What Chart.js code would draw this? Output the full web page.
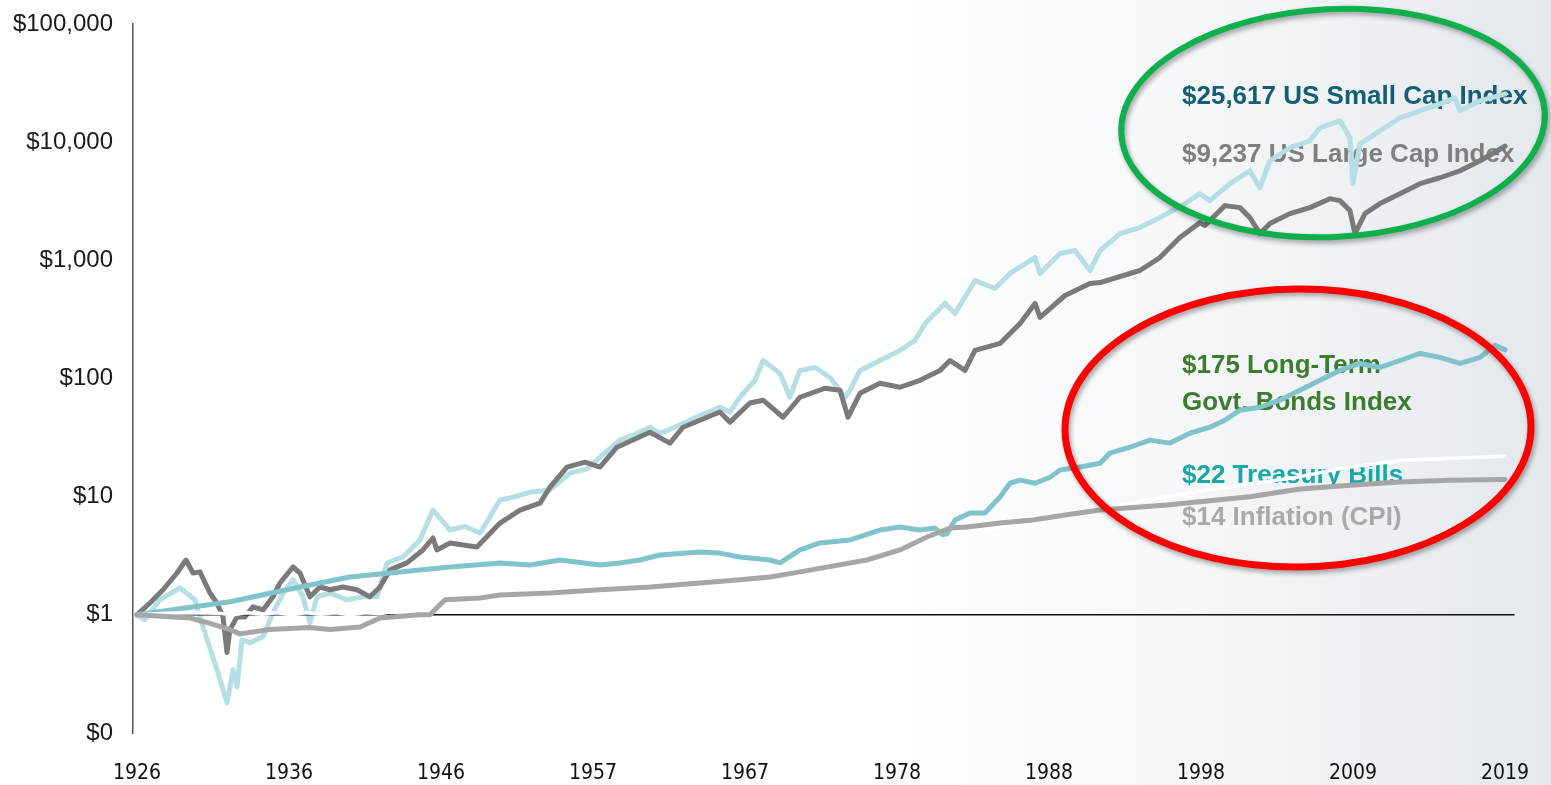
<!DOCTYPE html>
<html>
<head>
<meta charset="utf-8">
<script src="https://cdn.jsdelivr.net/npm/chart.js@4.4.1/dist/chart.umd.min.js"></script>
<style>
  html, body { margin: 0; padding: 0; background: #ffffff; }
  #wrap { width: 1551px; height: 785px; position: relative; }
</style>
</head>
<body>
<div id="wrap"><canvas id="c"></canvas></div>
<script>
// ---------- DATA ----------
const xTickLabels = ['1926','1936','1946','1957','1967','1978','1988','1998','2009','2019'];
const yTickValues = [0.1, 1, 10, 100, 1000, 10000, 100000];
const yTickLabels = ['$0','$1','$10','$100','$1,000','$10,000','$100,000'];

const smallCapYears = [1926.0,1926.54,1927.56,1928.92,1929.94,1930.49,1931.44,1932.12,1932.53,1932.80,1933.14,1933.68,1934.57,1935.25,1935.93,1936.61,1937.28,1937.76,1938.24,1939.12,1940.28,1941.36,1942.32,1943.00,1944.08,1945.24,1946.12,1947.28,1948.3,1949.32,1950.68,1951.6,1952.72,1954.08,1955.44,1956.6,1957.47,1958.83,1959.8,1960.87,1961.55,1962.3,1963.59,1965.63,1966.3,1966.99,1968.01,1968.56,1969.71,1970.39,1971.07,1972.09,1973.11,1974.13,1974.47,1975.15,1976.51,1977.87,1978.89,1979.57,1980.93,1981.61,1982.97,1984.33,1985.35,1987.05,1987.39,1988.75,1989.77,1990.79,1991.47,1992.83,1994.18,1995.54,1997.24,1998.26,1998.94,2000.30,2001.66,2002.34,2003.02,2004.38,2005.74,2006.42,2007.78,2008.46,2008.66,2009.14,2010.50,2011.86,2013.22,2014.58,2015.60,2015.94,2017.31,2019.0];
const smallCapValues = [1.0,0.91,1.34,1.69,1.34,0.79,0.343,0.18,0.343,0.246,0.615,0.58,0.652,1.04,1.53,1.98,1.42,0.86,1.42,1.53,1.34,1.42,1.42,2.75,3.09,4.30,7.70,5.22,5.6,4.93,9.36,9.9,10.9,11.4,15.8,17.2,21.6,30.1,33.5,38.7,34.4,37.5,44.4,57.1,52,69.4,96.6,142,111,69.4,117,124,102,69.4,79.5,117,142,173,210,292,432,355,675,578,774,1056,774,1141,1210,820,1210,1683,1892,2298,3020,3665,3200,4455,5730,4120,6965,8970,10280,13240,15170,10890,4455,9690,12480,16070,18410,21100,23700,18410,22380,25617];

const largeCapYears = [1926.0,1926.88,1927.77,1928.72,1929.33,1929.81,1930.28,1930.96,1931.44,1931.85,1932.12,1932.32,1932.80,1933.34,1933.89,1934.57,1935.25,1935.72,1936.61,1937.08,1937.76,1938.44,1939.12,1940.00,1940.96,1941.84,1942.52,1943.20,1944.35,1945.44,1946.12,1946.39,1947.28,1949.11,1950.68,1952.04,1953.40,1954.08,1955.23,1956.46,1957.47,1958.63,1960.87,1962.23,1963.12,1965.63,1966.31,1967.67,1968.56,1969.92,1971.07,1972.77,1973.79,1974.34,1975.15,1976.51,1977.87,1979.23,1980.59,1981.27,1982.29,1982.97,1984.67,1986.03,1987.05,1987.39,1989.09,1990.79,1991.47,1994.18,1995.54,1996.90,1998.26,1998.60,1999.96,2000.98,2001.66,2002.34,2003.02,2004.38,2005.74,2007.10,2007.78,2008.46,2008.80,2009.48,2010.50,2011.86,2013.22,2014.58,2015.94,2017.31,2019.0];
const largeCapValues = [1.0,1.26,1.63,2.26,2.91,2.26,2.31,1.53,1.26,0.96,0.48,0.75,0.96,0.96,1.17,1.10,1.42,1.86,2.54,2.26,1.42,1.72,1.63,1.72,1.63,1.42,1.72,2.40,2.75,3.54,4.47,3.54,4.06,3.75,5.98,7.7,8.83,12.05,17.8,19.6,17.8,26.2,35.1,28.4,38.7,52,42.7,62,65.5,47.0,69.4,82.7,79.5,47.0,75.0,91.1,84.3,96.6,117,142,117,173,198,292,432,329,504,637,649,820,1056,1559,2085,1968,2904,2793,2298,1683,2047,2485,2793,3326,3200,2635,1683,2485,3020,3665,4455,5000,5730,6965,9237];

const bondYears = [1926.0,1932.32,1937.08,1940.48,1945.24,1947.28,1950.68,1952.72,1954.76,1957.47,1958.83,1960.19,1961.55,1964.27,1965.63,1966.99,1969.03,1969.71,1971.07,1972.43,1974.47,1976.51,1977.87,1979.23,1980.25,1980.93,1981.61,1982.63,1983.65,1984.67,1985.35,1986.03,1987.05,1988.07,1988.75,1990.11,1991.47,1992.14,1993.50,1994.86,1996.22,1997.58,1998.94,1999.96,2000.98,2002.34,2003.70,2005.06,2006.42,2007.78,2009.14,2010.50,2011.86,2013.22,2014.58,2015.94,2017.31,2018.33,2019.0];
const bondValues = [1.0,1.29,1.72,2.09,2.40,2.54,2.75,2.64,2.91,2.64,2.75,2.91,3.21,3.40,3.33,3.09,2.91,2.75,3.54,4.06,4.30,5.22,5.54,5.22,5.43,4.56,6.34,7.27,7.27,9.92,13.0,13.8,13.0,14.6,16.8,17.8,19.2,23.4,26.2,30.1,28.4,34.4,38.7,44.4,53.9,57.1,65.5,79.5,96.6,117,134,124,142,163,151,134,151,191,175];

const tbillYears = [1926,1928,1930,1931.5,1932.5,1933.5,1934.5,1935.5,1936.5,1937.5,1938.5,1939.5,1940.5,1941.5,1942.5,1943.5,1946,1950,1955,1960,1965,1970,1975,1980,1985,1988,1991.5,1995,1997,2000,2005,2008,2012,2015,2019];
const tbillValues = [1.0,1.03,1.04,1.03,1.0,1.04,1.01,1.04,1.0,1.04,1.01,1.04,1.0,1.04,1.02,1.07,1.12,1.2,1.3,1.5,1.8,2.25,3.0,4.2,5.6,6.6,7.9,9.5,10.5,12,14.7,17.5,20.3,21,22];

const cpiYears = [1926,1929.6,1930.62,1932.32,1933.0,1935.04,1937.76,1939.12,1941.16,1942.52,1945.24,1945.92,1946.94,1949.32,1950.68,1954.08,1957.47,1960.87,1964.27,1966.99,1969.03,1971.07,1975.62,1977.87,1979.71,1981.27,1982.43,1984.67,1986.91,1989.09,1991.47,1996.02,2001.66,2005.06,2008.46,2011.86,2015.26,2019.0];
const cpiValues = [1.0,0.94,0.87,0.75,0.69,0.75,0.78,0.75,0.79,0.94,1.0,1.0,1.34,1.39,1.47,1.53,1.63,1.72,1.86,1.98,2.09,2.31,2.91,3.54,4.56,5.43,5.54,5.98,6.34,7.0,7.7,8.49,10.0,11.6,12.5,13.3,13.8,14.0];

const baselineYears = [1926, 2019.65];
const baselineValues = [1, 1];

// ---------- helpers ----------
const pts = (xs, ys) => xs.map((x, i) => ({ x: x, y: ys[i] }));

const annotationLabels = [
  { text: '$25,617 US Small Cap Index', x: 1182, y: 97,  color: '#135e74' },
  { text: '$9,237 US Large Cap Index',  x: 1182, y: 155, color: '#7f7f7f' },
  { text: '$175 Long-Term',             x: 1182, y: 366, color: '#3b7d2d' },
  { text: 'Govt. Bonds Index',          x: 1182, y: 403, color: '#3b7d2d' },
  { text: '$22 Treasury Bills',         x: 1182, y: 476, color: '#19a8a5' },
  { text: '$14 Inflation (CPI)',        x: 1182, y: 518, color: '#a9a9a9' }
];
const annotationEllipses = [
  { cx: 1333, cy: 123, rx: 212, ry: 114, rot: -0.05, color: '#0fb04b', width: 6 },
  { cx: 1298, cy: 428, rx: 233, ry: 139, rot: -0.01, color: '#ff0000', width: 7 }
];

const bgPlugin = {
  id: 'bg',
  beforeDraw(chart) {
    const ctx = chart.ctx, w = chart.width, h = chart.height;
    const g = ctx.createLinearGradient(0, 0, w, 0);
    g.addColorStop(0, '#ffffff');
    g.addColorStop(0.56, '#ffffff');
    g.addColorStop(0.72, '#f8f9fb');
    g.addColorStop(0.86, '#eff2f5');
    g.addColorStop(1, '#e3e8ed');
    ctx.save();
    ctx.fillStyle = g;
    ctx.fillRect(0, 0, w, h);
    ctx.restore();
  }
};

const annoPlugin = {
  id: 'anno',
  beforeDatasetsDraw(chart) {
    const ctx = chart.ctx;
    ctx.save();
    ctx.font = 'bold 26px "Liberation Sans", Arial, sans-serif';
    ctx.textBaseline = 'middle';
    ctx.textAlign = 'left';
    annotationLabels.forEach(l => {
      ctx.fillStyle = l.color;
      ctx.fillText(l.text, l.x, l.y);
    });
    ctx.restore();
  },
  afterDatasetsDraw(chart) {
    const ctx = chart.ctx;
    annotationEllipses.forEach(e => {
      ctx.save();
      ctx.shadowColor = 'rgba(0,0,0,0.35)';
      ctx.shadowBlur = 5;
      ctx.shadowOffsetX = 2;
      ctx.shadowOffsetY = 3;
      ctx.strokeStyle = e.color;
      ctx.lineWidth = e.width;
      ctx.beginPath();
      ctx.ellipse(e.cx, e.cy, e.rx, e.ry, e.rot, 0, Math.PI * 2);
      ctx.stroke();
      ctx.restore();
    });
  }
};

const lineStyle = (color, width) => ({
  borderColor: color, backgroundColor: color, borderWidth: width,
  pointRadius: 0, pointHoverRadius: 0, tension: 0, fill: false,
  borderJoinStyle: 'round', borderCapStyle: 'round'
});

new Chart(document.getElementById('c'), {
  type: 'line',
  data: {
    datasets: [
      Object.assign({ label: 'Inflation (CPI)', data: pts(cpiYears, cpiValues) }, lineStyle('#a6a6a6', 5)),
      Object.assign({ label: 'Treasury Bills', data: pts(tbillYears, tbillValues) }, lineStyle('#ffffff', 3.5)),
      Object.assign({ label: '$1', data: pts(baselineYears, baselineValues) }, lineStyle('#111111', 1.5), { borderCapStyle: 'butt' }),
      Object.assign({ label: 'Long-Term Govt. Bonds Index', data: pts(bondYears, bondValues) }, lineStyle('#80c3cb', 5)),
      Object.assign({ label: 'US Large Cap Index', data: pts(largeCapYears, largeCapValues) }, lineStyle('#7a7a7a', 5)),
      Object.assign({ label: 'US Small Cap Index', data: pts(smallCapYears, smallCapValues) }, lineStyle('#b5dfe4', 5))
    ]
  },
  options: {
    responsive: true,
    maintainAspectRatio: false,
    devicePixelRatio: 1,
    animation: false,
    layout: { padding: { top: 24, right: 36, left: 0, bottom: 0 } },
    plugins: { legend: { display: false }, tooltip: { enabled: false } },
    scales: {
      x: {
        type: 'linear',
        min: 1925.73,
        max: 2019.68,
        grid: { display: false, drawTicks: false },
        border: { display: false },
        afterBuildTicks: s => { s.ticks = xTickLabels.map((_, k) => ({ value: 1926 + k * 93 / (xTickLabels.length - 1) })); },
        afterFit: s => { s.height = 52; s.paddingLeft = 0; s.paddingRight = 0; },
        ticks: {
          autoSkip: false, maxRotation: 0, padding: 28,
          color: '#111111',
          font: { family: '"DejaVu Sans Condensed", "Liberation Sans", sans-serif', size: 21 },
          callback: (v, i) => xTickLabels[i]
        }
      },
      y: {
        type: 'logarithmic',
        min: 0.1,
        max: 100000,
        grid: { display: false, drawTicks: false },
        border: { display: true, color: '#555555', width: 1.5 },
        afterBuildTicks: s => { s.ticks = yTickValues.map(v => ({ value: v })); },
        afterFit: s => { s.width = 133; s.paddingTop = 0; s.paddingBottom = 0; },
        ticks: {
          autoSkip: false, padding: 20,
          color: '#1a1a1a',
          font: { family: '"Liberation Sans", Arial, sans-serif', size: 24 },
          callback: (v, i) => yTickLabels[i]
        }
      }
    }
  },
  plugins: [bgPlugin, annoPlugin]
});
</script>
</body>
</html>
